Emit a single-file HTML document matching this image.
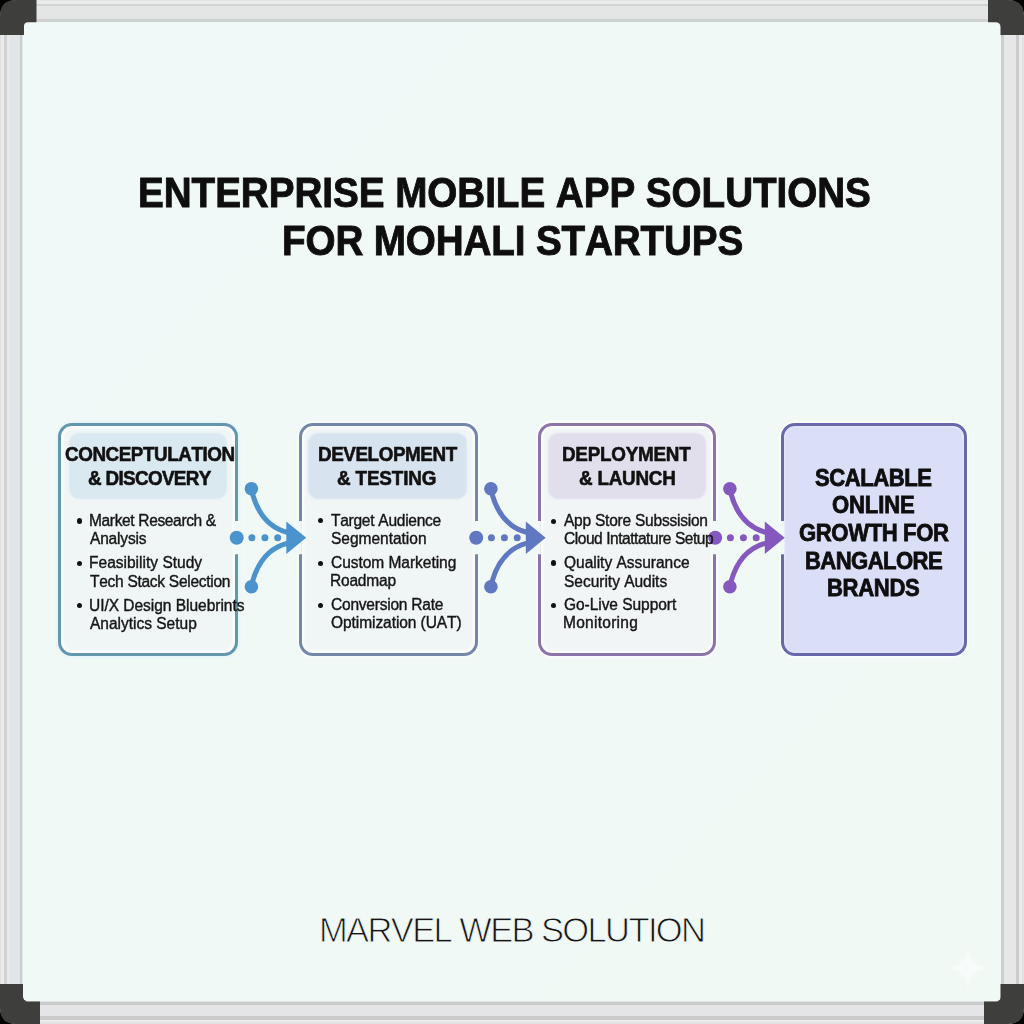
<!DOCTYPE html><html><head><meta charset="utf-8"><style>
html,body{margin:0;padding:0;width:1024px;height:1024px;overflow:hidden;background:#000}
*{box-sizing:border-box}
.t{position:absolute;white-space:nowrap;font-family:"Liberation Sans",sans-serif;font-kerning:none}
.abs{position:absolute}
</style></head><body>
<div class="abs" style="left:0;top:0;width:1024px;height:23px;background:linear-gradient(to bottom,#e3e4e4 0px,#e3e4e4 1.5px,#eaebeb 1.5px,#eaebeb 3.6px,#d2d3d3 3.6px,#d2d3d3 6.5px,#e4e5e5 6.5px,#e4e5e5 19px,#cfd0d0 19px,#cfd0d0 22.2px,#f1f9f6 22.2px,#f1f9f6 23px)"></div>
<div class="abs" style="left:0;top:1001px;width:1024px;height:23px;background:linear-gradient(to bottom,#dfe2e2 0px,#dfe2e2 0.5px,#cacccc 0.5px,#cacccc 4px,#e4e5e6 4px,#e4e5e6 15px,#cbcbcb 15px,#cbcbcb 19px,#ececec 19px,#ececec 21px,#e2e2e2 21px,#e2e2e2 23px)"></div>
<div class="abs" style="left:0;top:0;width:23px;height:1024px;background:linear-gradient(to right,#e0e0e0 0px,#e0e0e0 1.5px,#eaebec 1.5px,#eaebec 4px,#d0d1d3 4px,#d0d1d3 7.5px,#e8e9ea 7.5px,#e8e9ea 10px,#e2e5e8 10px,#e2e5e8 20px,#c8cdd0 20px,#c8cdd0 22.5px,#e0e8e8 22.5px,#e0e8e8 23px)"></div>
<div class="abs" style="left:1000px;top:0;width:24px;height:1024px;background:linear-gradient(to right,#e0e8e8 0px,#e0e8e8 0.5px,#cbcfd0 0.5px,#cbcfd0 4px,#e6e8e8 4px,#e6e8e8 16px,#cccccf 16px,#cccccf 19.5px,#ebebed 19.5px,#ebebed 22px,#e2e2e4 22px,#e2e2e4 24px)"></div>
<div class="abs" style="left:22.5px;top:22.2px;width:978px;height:979.3px;background:linear-gradient(135deg,#f0f9f8,#f1f9f6 50%,#f1f9f5);border-radius:4px"></div>
<svg class="abs" style="left:0;top:0" width="1024" height="1024" viewBox="0 0 1024 1024"><path d="M0,0 H18 Q0,0 0,18 Z" fill="#000"/><path d="M0,16 Q0,0 16,0 H36.5 V22.2 H28 Q24,22.2 24,26 V35 H0 Z" fill="#3e3f3c"/><path d="M1024,0 H1006 Q1024,0 1024,18 Z" fill="#000"/><path d="M1024,16 Q1024,0 1008,0 H988 V22.2 H995.5 Q1000.5,22.2 1000.5,27 V35 H1024 Z" fill="#3e3f3c"/><path d="M0,1024 H18 Q0,1024 0,1006 Z" fill="#000"/><path d="M0,1008 Q0,1024 16,1024 H40 V1001.5 H28 Q23,1001.5 23,996.5 V984 H0 Z" fill="#3e3f3c"/><path d="M1024,1024 H1006 Q1024,1024 1024,1006 Z" fill="#000"/><path d="M1024,1008 Q1024,1024 1008,1024 H984 V1001.5 H996 Q1000.5,1001.5 1000.5,997 V984 H1024 Z" fill="#3e3f3c"/></svg>
<div class="t" style="left:138.17px;top:168.05px;font-size:42px;line-height:50px;font-weight:bold;letter-spacing:-0.049px;color:#0e0e0e;transform:scaleX(0.92);transform-origin:0 0;-webkit-text-stroke:0.9px #0e0e0e;">ENTERPRISE MOBILE APP SOLUTIONS</div>
<div class="t" style="left:281.87px;top:215.55px;font-size:42px;line-height:50px;font-weight:bold;letter-spacing:-0.149px;color:#0e0e0e;transform:scaleX(0.92);transform-origin:0 0;-webkit-text-stroke:0.9px #0e0e0e;">FOR MOHALI STARTUPS</div>
<div class="abs" style="left:57.55px;top:422.90px;width:180.65px;height:233.40px;border:3px solid #6496ae;border-radius:14px;background:#f0f6f6;box-shadow:0 0 2px 2px rgba(228,246,252,0.9), inset 0 0 3px 2px rgba(255,255,255,0.85)"></div>
<div class="abs" style="left:298.60px;top:422.90px;width:179.10px;height:233.40px;border:3px solid #7388a8;border-radius:14px;background:#f0f5f6;box-shadow:0 0 2px 2px rgba(246,252,252,0.9), inset 0 0 3px 2px rgba(255,255,255,0.85)"></div>
<div class="abs" style="left:537.60px;top:422.90px;width:178.90px;height:233.40px;border:3px solid #8a74a8;border-radius:14px;background:#f1f5f6;box-shadow:0 0 2px 2px rgba(252,252,255,0.9), inset 0 0 3px 2px rgba(255,255,255,0.85)"></div>
<div class="abs" style="left:781.00px;top:422.90px;width:185.55px;height:233.40px;border:3px solid #6868aa;border-radius:14px;background:#dadef6;box-shadow:0 0 2px 2px rgba(250,255,255,0.9), inset 0 0 3px 1px rgba(235,238,255,0.8)"></div>
<div class="abs" style="left:69.8px;top:434px;width:156.2px;height:63.5px;border-radius:9px;background:#d9e9ef;box-shadow:0 0 2px 1px #d9e9ef"></div>
<div class="abs" style="left:309.3px;top:434px;width:156.89999999999998px;height:63.5px;border-radius:9px;background:#d8e3f0;box-shadow:0 0 2px 1px #d8e3f0"></div>
<div class="abs" style="left:549px;top:434px;width:156.29999999999995px;height:63.5px;border-radius:9px;background:#e2dfec;box-shadow:0 0 2px 1px #e2dfec"></div>
<svg class="abs" style="left:0;top:0" width="1024" height="1024" viewBox="0 0 1024 1024"><rect x="233.7" y="521" width="6" height="33.3" fill="#f1f9f6"/><rect x="297.3" y="521" width="4.6" height="33.3" fill="#f1f9f6"/><path d="M252.5,494 C257.0,510 266.0,527 287.7,532.5" stroke="#4b93cd" stroke-width="5" fill="none"/><path d="M252.5,581.6 C257.0,565.6 266.0,548.6 287.7,543.1" stroke="#4b93cd" stroke-width="5" fill="none"/><circle cx="251.39999999999998" cy="488.8" r="6.8" fill="#4b93cd"/><circle cx="251.39999999999998" cy="586.8" r="6.8" fill="#4b93cd"/><circle cx="236.7" cy="537.8" r="7" fill="#4b93cd"/><circle cx="251.89999999999998" cy="537.8" r="3.5" fill="#4b93cd"/><circle cx="264.9" cy="537.8" r="3.5" fill="#4b93cd"/><circle cx="277.7" cy="537.8" r="3.5" fill="#4b93cd"/><path d="M286.3,521.6 L306.2,537.8 L286.3,554 Z" fill="#4b93cd"/><rect x="473.2" y="521" width="6" height="33.3" fill="#f1f9f6"/><rect x="536.3000000000001" y="521" width="4.6" height="33.3" fill="#f1f9f6"/><path d="M492.0,494 C496.5,510 505.5,527 527.2,532.5" stroke="#6078c2" stroke-width="5" fill="none"/><path d="M492.0,581.6 C496.5,565.6 505.5,548.6 527.2,543.1" stroke="#6078c2" stroke-width="5" fill="none"/><circle cx="490.9" cy="488.8" r="6.8" fill="#6078c2"/><circle cx="490.9" cy="586.8" r="6.8" fill="#6078c2"/><circle cx="476.2" cy="537.8" r="7" fill="#6078c2"/><circle cx="491.4" cy="537.8" r="3.5" fill="#6078c2"/><circle cx="504.4" cy="537.8" r="3.5" fill="#6078c2"/><circle cx="517.2" cy="537.8" r="3.5" fill="#6078c2"/><path d="M525.8,521.6 L545.7,537.8 L525.8,554 Z" fill="#6078c2"/><rect x="712.2" y="521" width="6" height="33.3" fill="#f1f9f6"/><rect x="779.7" y="521" width="4.6" height="33.3" fill="#f1f9f6"/><path d="M731.0,494 C735.5,510 744.5,527 766.2,532.5" stroke="#8558c0" stroke-width="5" fill="none"/><path d="M731.0,581.6 C735.5,565.6 744.5,548.6 766.2,543.1" stroke="#8558c0" stroke-width="5" fill="none"/><circle cx="729.9000000000001" cy="488.8" r="6.8" fill="#8558c0"/><circle cx="729.9000000000001" cy="586.8" r="6.8" fill="#8558c0"/><circle cx="715.2" cy="537.8" r="7" fill="#8558c0"/><circle cx="730.4000000000001" cy="537.8" r="3.5" fill="#8558c0"/><circle cx="743.4000000000001" cy="537.8" r="3.5" fill="#8558c0"/><circle cx="756.2" cy="537.8" r="3.5" fill="#8558c0"/><path d="M764.8000000000001,521.6 L784.7,537.8 L764.8000000000001,554 Z" fill="#8558c0"/></svg>
<div class="t" style="left:64.83px;top:440.90px;font-size:20.5px;line-height:25px;font-weight:bold;letter-spacing:-0.491px;color:#111;transform:scaleX(0.92);transform-origin:0 0;-webkit-text-stroke:0.6px #111;">CONCEPTULATION</div>
<div class="t" style="left:87.57px;top:464.60px;font-size:20.5px;line-height:25px;font-weight:bold;letter-spacing:-0.730px;color:#111;transform:scaleX(0.92);transform-origin:0 0;-webkit-text-stroke:0.6px #111;">&amp; DISCOVERY</div>
<div class="t" style="left:318.04px;top:440.90px;font-size:20.5px;line-height:25px;font-weight:bold;letter-spacing:-0.478px;color:#111;transform:scaleX(0.92);transform-origin:0 0;-webkit-text-stroke:0.6px #111;">DEVELOPMENT</div>
<div class="t" style="left:336.77px;top:464.60px;font-size:20.5px;line-height:25px;font-weight:bold;letter-spacing:-0.162px;color:#111;transform:scaleX(0.92);transform-origin:0 0;-webkit-text-stroke:0.6px #111;">&amp; TESTING</div>
<div class="t" style="left:561.94px;top:440.90px;font-size:20.5px;line-height:25px;font-weight:bold;letter-spacing:-0.268px;color:#111;transform:scaleX(0.92);transform-origin:0 0;-webkit-text-stroke:0.6px #111;">DEPLOYMENT</div>
<div class="t" style="left:579.47px;top:464.60px;font-size:20.5px;line-height:25px;font-weight:bold;letter-spacing:-0.261px;color:#111;transform:scaleX(0.92);transform-origin:0 0;-webkit-text-stroke:0.6px #111;">&amp; LAUNCH</div>
<div class="abs" style="left:76.7px;top:518.4px;width:5.2px;height:5.2px;border-radius:50%;background:#111"></div>
<div class="abs" style="left:76.7px;top:560.9px;width:5.2px;height:5.2px;border-radius:50%;background:#111"></div>
<div class="abs" style="left:76.7px;top:602.8px;width:5.2px;height:5.2px;border-radius:50%;background:#111"></div>
<div class="t" style="left:89.13px;top:511.06px;font-size:16px;line-height:19px;letter-spacing:-0.362px;color:#161616;transform:scaleX(0.97);transform-origin:0 0;-webkit-text-stroke:0.4px #161616;">Market Research &amp;</div>
<div class="t" style="left:90.37px;top:529.16px;font-size:16px;line-height:19px;letter-spacing:-0.191px;color:#161616;transform:scaleX(0.97);transform-origin:0 0;-webkit-text-stroke:0.4px #161616;">Analysis</div>
<div class="t" style="left:89.13px;top:552.66px;font-size:16px;line-height:19px;letter-spacing:0.007px;color:#161616;transform:scaleX(0.97);transform-origin:0 0;-webkit-text-stroke:0.4px #161616;">Feasibility Study</div>
<div class="t" style="left:90.05px;top:572.36px;font-size:16px;line-height:19px;letter-spacing:-0.289px;color:#161616;transform:scaleX(0.97);transform-origin:0 0;-webkit-text-stroke:0.4px #161616;">Tech Stack Selection</div>
<div class="t" style="left:89.20px;top:595.66px;font-size:16px;line-height:19px;letter-spacing:-0.033px;color:#161616;transform:scaleX(0.97);transform-origin:0 0;-webkit-text-stroke:0.4px #161616;">UI/X Design Bluebrints</div>
<div class="t" style="left:90.37px;top:614.16px;font-size:16px;line-height:19px;letter-spacing:-0.014px;color:#161616;transform:scaleX(0.97);transform-origin:0 0;-webkit-text-stroke:0.4px #161616;">Analytics Setup</div>
<div class="abs" style="left:318.29999999999995px;top:518.1999999999999px;width:5.2px;height:5.2px;border-radius:50%;background:#111"></div>
<div class="abs" style="left:318.29999999999995px;top:560.5px;width:5.2px;height:5.2px;border-radius:50%;background:#111"></div>
<div class="abs" style="left:318.29999999999995px;top:602.6px;width:5.2px;height:5.2px;border-radius:50%;background:#111"></div>
<div class="t" style="left:331.25px;top:511.06px;font-size:16px;line-height:19px;letter-spacing:-0.268px;color:#161616;transform:scaleX(0.97);transform-origin:0 0;-webkit-text-stroke:0.4px #161616;">Target Audience</div>
<div class="t" style="left:330.90px;top:528.56px;font-size:16px;line-height:19px;letter-spacing:-0.024px;color:#161616;transform:scaleX(0.97);transform-origin:0 0;-webkit-text-stroke:0.4px #161616;">Segmentation</div>
<div class="t" style="left:330.81px;top:553.06px;font-size:16px;line-height:19px;letter-spacing:-0.044px;color:#161616;transform:scaleX(0.97);transform-origin:0 0;-webkit-text-stroke:0.4px #161616;">Custom Marketing</div>
<div class="t" style="left:330.33px;top:571.16px;font-size:16px;line-height:19px;letter-spacing:-0.218px;color:#161616;transform:scaleX(0.97);transform-origin:0 0;-webkit-text-stroke:0.4px #161616;">Roadmap</div>
<div class="t" style="left:330.81px;top:595.26px;font-size:16px;line-height:19px;letter-spacing:-0.230px;color:#161616;transform:scaleX(0.97);transform-origin:0 0;-webkit-text-stroke:0.4px #161616;">Conversion Rate</div>
<div class="t" style="left:330.86px;top:612.96px;font-size:16px;line-height:19px;letter-spacing:-0.076px;color:#161616;transform:scaleX(0.97);transform-origin:0 0;-webkit-text-stroke:0.4px #161616;">Optimization (UAT)</div>
<div class="abs" style="left:551.1999999999999px;top:518.9px;width:5.2px;height:5.2px;border-radius:50%;background:#111"></div>
<div class="abs" style="left:551.1999999999999px;top:560.4px;width:5.2px;height:5.2px;border-radius:50%;background:#111"></div>
<div class="abs" style="left:551.1999999999999px;top:602.9px;width:5.2px;height:5.2px;border-radius:50%;background:#111"></div>
<div class="t" style="left:564.47px;top:511.06px;font-size:16px;line-height:19px;letter-spacing:-0.241px;color:#161616;transform:scaleX(0.97);transform-origin:0 0;-webkit-text-stroke:0.4px #161616;">App Store Subssision</div>
<div class="t" style="left:563.71px;top:529.46px;font-size:16px;line-height:19px;letter-spacing:-0.468px;color:#161616;transform:scaleX(0.97);transform-origin:0 0;-webkit-text-stroke:0.4px #161616;">Cloud Intattature Setup</div>
<div class="t" style="left:563.76px;top:552.86px;font-size:16px;line-height:19px;letter-spacing:-0.027px;color:#161616;transform:scaleX(0.97);transform-origin:0 0;-webkit-text-stroke:0.4px #161616;">Quality Assurance</div>
<div class="t" style="left:563.80px;top:572.26px;font-size:16px;line-height:19px;letter-spacing:-0.025px;color:#161616;transform:scaleX(0.97);transform-origin:0 0;-webkit-text-stroke:0.4px #161616;">Security Audits</div>
<div class="t" style="left:563.72px;top:595.46px;font-size:16px;line-height:19px;letter-spacing:-0.060px;color:#161616;transform:scaleX(0.97);transform-origin:0 0;-webkit-text-stroke:0.4px #161616;">Go-Live Support</div>
<div class="t" style="left:563.23px;top:612.96px;font-size:16px;line-height:19px;letter-spacing:0.276px;color:#161616;transform:scaleX(0.97);transform-origin:0 0;-webkit-text-stroke:0.4px #161616;">Monitoring</div>
<div class="t" style="left:815.46px;top:462.88px;font-size:24px;line-height:29px;font-weight:bold;letter-spacing:-0.499px;color:#0e0e0e;transform:scaleX(0.92);transform-origin:0 0;-webkit-text-stroke:0.8px #0e0e0e;">SCALABLE</div>
<div class="t" style="left:832.29px;top:490.28px;font-size:24px;line-height:29px;font-weight:bold;letter-spacing:-0.162px;color:#0e0e0e;transform:scaleX(0.92);transform-origin:0 0;-webkit-text-stroke:0.8px #0e0e0e;">ONLINE</div>
<div class="t" style="left:798.59px;top:517.68px;font-size:24px;line-height:29px;font-weight:bold;letter-spacing:-0.405px;color:#0e0e0e;transform:scaleX(0.92);transform-origin:0 0;-webkit-text-stroke:0.8px #0e0e0e;">GROWTH FOR</div>
<div class="t" style="left:804.72px;top:545.88px;font-size:24px;line-height:29px;font-weight:bold;letter-spacing:-0.632px;color:#0e0e0e;transform:scaleX(0.92);transform-origin:0 0;-webkit-text-stroke:0.8px #0e0e0e;">BANGALORE</div>
<div class="t" style="left:827.12px;top:573.28px;font-size:24px;line-height:29px;font-weight:bold;letter-spacing:-0.351px;color:#0e0e0e;transform:scaleX(0.92);transform-origin:0 0;-webkit-text-stroke:0.8px #0e0e0e;">BRANDS</div>
<div class="t" style="left:318.97px;top:910.05px;font-size:34.5px;line-height:41px;letter-spacing:-1.608px;color:#151515;-webkit-text-stroke:0.9px #f1f9f6;">MARVEL WEB SOLUTION</div>
<svg class="abs" style="left:944px;top:944px;filter:blur(0.6px)" width="48" height="48" viewBox="0 0 48 48"><path d="M24,1 C25.5,16 32,22.5 47,24 C32,25.5 25.5,32 24,47 C22.5,32 16,25.5 1,24 C16,22.5 22.5,16 24,1 Z" fill="#ffffff" opacity="0.42"/></svg>
</body></html>
